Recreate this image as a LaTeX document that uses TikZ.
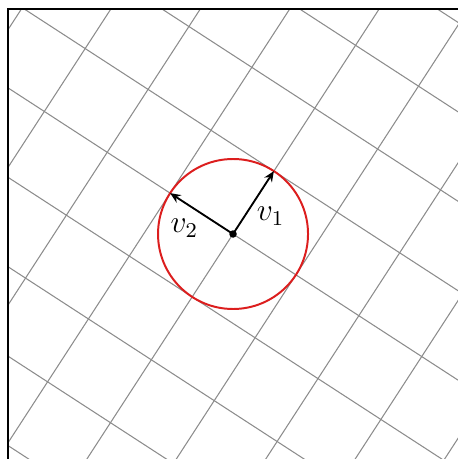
\documentclass[tikz,border=0pt]{standalone}
\usepackage{xcolor}
\usepackage{tikz}
\usetikzlibrary{arrows.meta, positioning, calc}
\definecolor{gridgray}{RGB}{140,140,140}
\definecolor{circred}{RGB}{220,30,30}

\begin{document}
\begin{tikzpicture}[font=\large,
    gridline/.style={draw=gridgray,line width=0.4pt},
    vecarrow/.style={-{Stealth[length=4pt,width=3.4pt]},line width=0.7pt,black}]
  \def\ang{57}
  \def\n{6}
  \useasboundingbox (-3.107,-3.0) rectangle (2.987,3.12);

  % rotated grid, spacing = radius of circle
  \begin{scope}
    \clip (-3,-3.2) rectangle (3.2,3);
    \begin{scope}[rotate=\ang]
      \foreach \i in {-\n,...,\n}{
        \draw[gridline] (\i,-\n) -- (\i,\n);
        \draw[gridline] (-\n,\i) -- (\n,\i);
      }
    \end{scope}
  \end{scope}
  \draw[line width=0.4pt] (-3,-3.2) -- (-3,3) -- (3.2,3);

  \coordinate (o) at (0,0);
  \coordinate (t1) at (\ang:1);
  \coordinate (t2) at (\ang+90:1);

  \draw[circred,line width=0.75pt] (o) circle (1);
  \draw[vecarrow] (o) -- (t1);
  \draw[vecarrow] (o) -- (t2);
  \fill (o) circle (0.05);

  \node (l1) at (0.5,0.24) {$v_1$};
  \node (l2) at (-0.65,0.08) {$v_2$};
\end{tikzpicture}
\end{document}
